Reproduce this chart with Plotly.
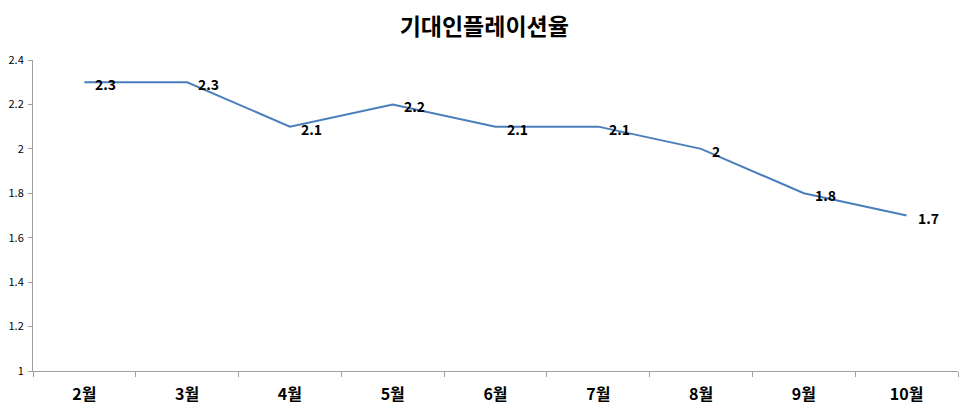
import plotly.graph_objects as go

months = ["2월", "3월", "4월", "5월", "6월", "7월", "8월", "9월", "10월"]
values = [2.3, 2.3, 2.1, 2.2, 2.1, 2.1, 2.0, 1.8, 1.7]
value_labels = ["2.3", "2.3", "2.1", "2.2", "2.1", "2.1", "2", "1.8", "1.7"]
y_ticks = [1, 1.2, 1.4, 1.6, 1.8, 2, 2.2, 2.4]
y_tick_text = ["1", "1.2", "1.4", "1.6", "1.8", "2", "2.2", "2.4"]
title = "기대인플레이션율"

font = "Noto Sans CJK KR"

fig = go.Figure()
fig.add_trace(go.Scatter(
    x=months, y=values, mode="lines",
    line=dict(color="#4a7ebb", width=2),
    showlegend=False, hoverinfo="skip",
))

for m, v, t in zip(months, values, value_labels):
    fig.add_annotation(
        x=m, y=v, xref="x", yref="y", text=t, showarrow=False,
        xanchor="left", yanchor="middle", xshift=9, yshift=-2,
        font=dict(family=font, size=14, color="#000000", weight="bold"),
    )

fig.update_layout(
    width=970, height=419,
    margin=dict(l=25, r=20, t=52, b=56),
    paper_bgcolor="white", plot_bgcolor="white",
    title=dict(text=title, x=0.491, xanchor="center", y=0.955, yanchor="middle",
               font=dict(family=font, size=23, color="#000000", weight="bold")),
    xaxis=dict(type="category", range=[-0.5, 8.5], tickson="boundaries",
               ticks="outside", ticklen=5, tickcolor="#a0a0a0",
               showline=True, linecolor="#a0a0a0", linewidth=1,
               showgrid=False, zeroline=False, ticklabelstandoff=9,
               automargin=False,
               tickfont=dict(family=font, size=16, color="#000000", weight="bold")),
    yaxis=dict(range=[1, 2.4], tickvals=y_ticks, ticktext=y_tick_text,
               ticks="outside", ticklen=4, tickcolor="#a0a0a0",
               showline=True, linecolor="#a0a0a0", linewidth=1,
               showgrid=False, zeroline=False, ticklabelstandoff=2,
               automargin=False,
               tickfont=dict(family=font, size=11, color="#000000")),
)

fig.write_html("out.html")
